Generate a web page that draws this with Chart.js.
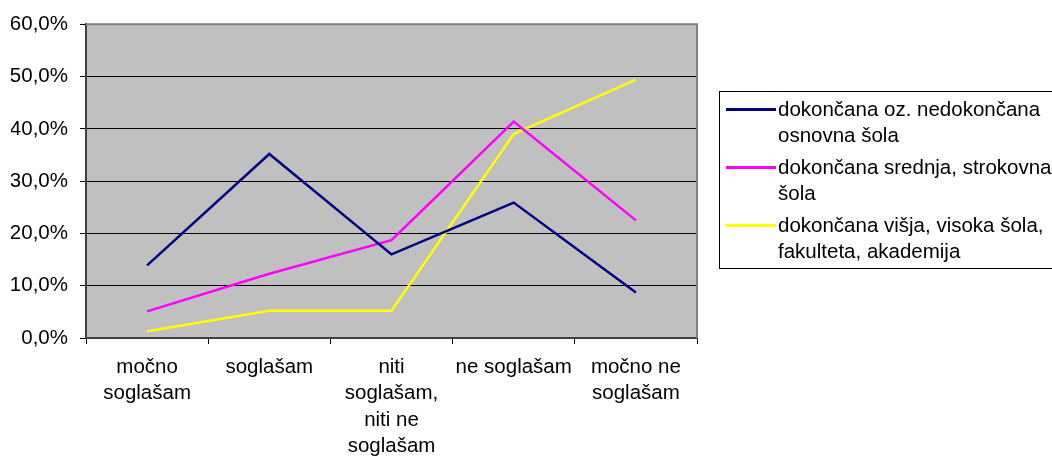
<!DOCTYPE html>
<html>
<head>
<meta charset="utf-8">
<script src="https://cdn.jsdelivr.net/npm/chart.js@4/dist/chart.umd.min.js"></script>
<style>
  body { margin: 0; background: #fff; font-family: "Liberation Sans", Arial, sans-serif; overflow: hidden; }
  #wrap { position: relative; width: 1052px; height: 459px; overflow: hidden; }
  #legend {
    position: absolute; left: 719px; top: 91px; width: 345px; height: 176px;
    border: 1px solid #000; box-sizing: content-box; white-space: nowrap;
  }
  .item { position: relative; padding-left: 58px; font-size: 20.5px; line-height: 26px; color: #000; margin-top: 6px; }
  .item:first-child { margin-top: 4px; }
  .item .swatch { position: absolute; left: 6px; top: 12px; width: 50px; height: 2.5px; }
</style>
</head>
<body>
<div id="wrap">
  <canvas id="chart" width="1052" height="459"></canvas>
  <div id="legend"></div>
</div>
<script>
// answer categories (x axis)
const categories = [
  ['močno', 'soglašam'],
  'soglašam',
  ['niti', 'soglašam,', 'niti ne', 'soglašam'],
  'ne soglašam',
  ['močno ne', 'soglašam']
];

// series, in percent
const seriesNames = [
  ['dokončana oz. nedokončana', 'osnovna šola'],
  ['dokončana srednja, strokovna', 'šola'],
  ['dokončana višja, visoka šola,', 'fakulteta, akademija']
];
const osnovna = [13.9, 35.2, 16.0, 25.9, 8.7];
const srednja = [5.1, 12.3, 18.7, 41.4, 22.5];
const visja = [1.3, 5.2, 5.2, 39.0, 49.4];
const seriesColors = ['#000080', '#ff00ff', '#ffff00'];

const yTicks = [0, 10, 20, 30, 40, 50, 60];

// grey plot area + frame
const plotBg = {
  id: 'plotBg',
  beforeDraw(chart) {
    const a = chart.chartArea, ctx = chart.ctx;
    ctx.save();
    ctx.fillStyle = '#c0c0c0';
    ctx.fillRect(a.left, a.top, a.right - a.left, a.bottom - a.top);
    ctx.restore();
  },
  afterDatasetsDraw(chart) {
    const a = chart.chartArea, ctx = chart.ctx;
    ctx.save();
    ctx.strokeStyle = '#808080';
    ctx.lineWidth = 2;
    ctx.beginPath();
    ctx.moveTo(a.left, a.top);
    ctx.lineTo(a.right, a.top);
    ctx.lineTo(a.right, a.bottom);
    ctx.stroke();
    ctx.restore();
  }
};

const font = { family: '"Liberation Sans", Arial, sans-serif', size: 20.5 };
const sets = [osnovna, srednja, visja];

new Chart(document.getElementById('chart'), {
  type: 'line',
  data: {
    labels: categories,
    datasets: sets.map((d, i) => ({
      label: seriesNames[i].join(' '),
      data: d,
      borderColor: seriesColors[i],
      backgroundColor: seriesColors[i],
      borderWidth: 2.5,
      pointRadius: 0,
      tension: 0
    }))
  },
  options: {
    responsive: false,
    animation: false,
    layout: { padding: { top: 23, left: 11, right: 355, bottom: 0 } },
    plugins: { legend: { display: false }, tooltip: { enabled: false } },
    scales: {
      x: {
        offset: true,
        grid: { offset: true, drawOnChartArea: false, color: '#000', tickLength: 6 },
        border: { color: '#404040', width: 2 },
        ticks: { color: '#000', font: { ...font, lineHeight: 1.29 }, padding: 10, maxRotation: 0, autoSkip: false },
        afterFit(scale) { scale.height = 121; }
      },
      y: {
        min: 0, max: 60,
        afterBuildTicks(scale) { scale.ticks = yTicks.map(v => ({ value: v })); },
        grid: { color: '#000', tickLength: 6 },
        border: { color: '#404040', width: 2 },
        ticks: {
          color: '#000', font, padding: 12,
          callback: v => v.toFixed(1).replace('.', ',') + '%'
        },
        afterFit(scale) { scale.width = 75; }
      }
    }
  },
  plugins: [plotBg]
});

// legend box with wrapped labels
const legend = document.getElementById('legend');
seriesNames.forEach((lines, i) => {
  const div = document.createElement('div');
  div.className = 'item';
  div.innerHTML = '<span class="swatch" style="background:' + seriesColors[i] + '"></span>' + lines.join('<br>');
  legend.appendChild(div);
});
</script>
</body>
</html>
